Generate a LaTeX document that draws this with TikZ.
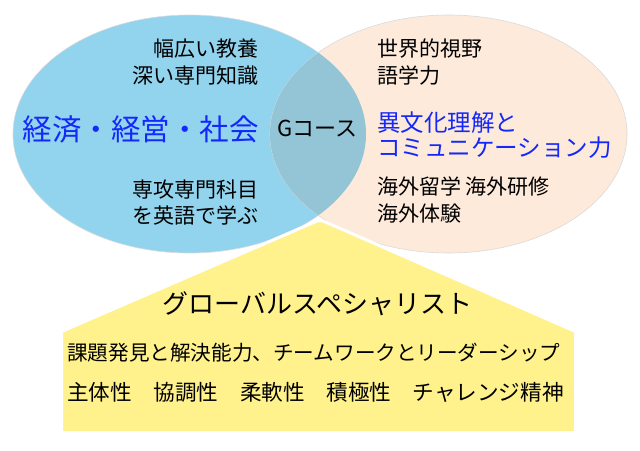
\documentclass[tikz,border=0pt]{standalone}
\usepackage{fontspec}
\setmainfont{Noto Sans CJK JP}
\usetikzlibrary{shapes.geometric}
\definecolor{lblue}{RGB}{146,211,238}
\definecolor{peach}{RGB}{253,234,218}
\definecolor{ovl}{RGB}{148,197,215}
\definecolor{yel}{RGB}{255,242,140}
\definecolor{btxt}{RGB}{20,40,250}
\definecolor{edgec}{RGB}{218,218,218}
\newcommand\fsz[1]{\fontsize{#1pt}{#1pt}\selectfont}
\begin{document}
\begin{tikzpicture}[x=1pt,y=1pt,
  oval/.style={ellipse, inner sep=0pt, minimum height=238pt, draw=edgec, line width=0.6pt},
  t/.style={inner sep=0pt, text height=0.88em, text depth=0.12em, font=\fsz{#1}},
  tb/.style={t=#1, text=btxt}
]
\useasboundingbox (0,0) rectangle (640,-450);
% ellipses
\node[oval, fill=lblue, minimum width=353pt] (L) at (189.5,-134) {};
\node[oval, fill=peach, minimum width=357pt] (R) at (448.5,-134) {};
\begin{scope}
  \clip (189.5,-134) ellipse [x radius=176.5pt, y radius=119pt];
  \fill[ovl] (448.5,-134) ellipse [x radius=178.5pt, y radius=119pt];
\end{scope}
% house shape
\coordinate (apex) at (320,-219.5);
\path[fill=yel, draw=white, line width=3pt, line join=round]
  (61.5,-331.5) -- (310.9,-223.6) .. controls (apex) .. (329.1,-223.6)
  -- (575.5,-331.5) -- (575.5,-432.5) -- (61.5,-432.5) -- cycle;
% left texts
\node[t=21, anchor=east] (l1) at (259,-53) {幅広い教養};
\node[t=21, anchor=east] (l2) at (259,-80) {深い専門知識};
\node[tb=29.5, anchor=east] (lb) at (259,-137) {経済・経営・社会};
\node[t=21, anchor=east] (l3) at (259,-194) {専攻専門科目};
\node[t=21, anchor=east] (l4) at (259,-220) {を英語で学ぶ};
% centre
\node[t=22, anchor=west] (g) at (277,-133) {Gコース};
% right texts
\node[t=21, anchor=west] (r1) at (377,-53) {世界的視野};
\node[t=21, anchor=west] (r2) at (377,-80) {語学力};
\node[tb=23.5, anchor=west] (rb1) at (377,-128) {異文化理解と};
\node[tb=23.5, anchor=west] (rb2) at (377,-153) {コミュニケーション力};
\node[t=21, anchor=west] (r3) at (377,-191) {海外留学 海外研修};
\node[t=21, anchor=west] (r4) at (377,-218) {海外体験};
% house texts
\node[t=26] (h1) at (317.5,-310) {グローバルスペシャリスト};
\node[t=20.6, anchor=west] (h2) at (67,-357) {課題発見と解決能力、チームワークとリーダーシップ};
\node[t=21.6, anchor=west] (h3) at (67,-397) {主体性　協調性　柔軟性　積極性　チャレンジ精神};
\end{tikzpicture}
\end{document}
